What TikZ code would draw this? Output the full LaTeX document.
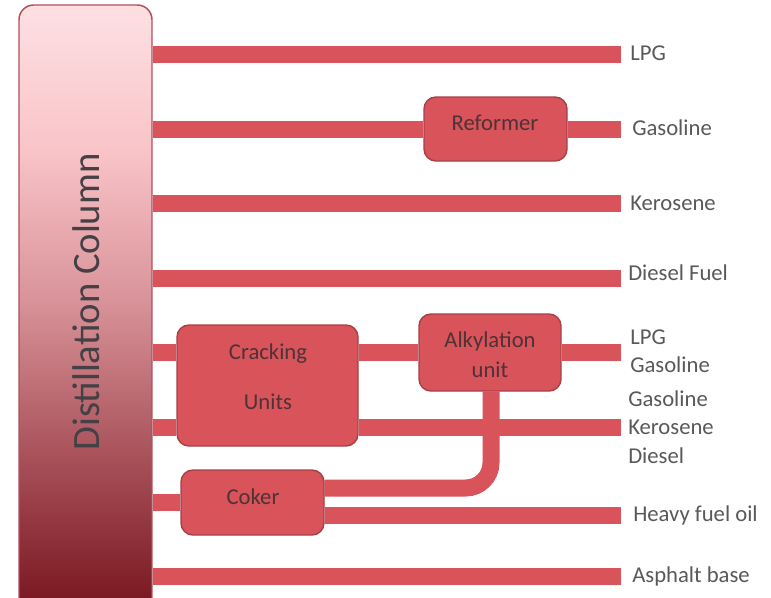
\documentclass[tikz,border=0pt]{standalone}
\usepackage{fontspec}
\setmainfont{Carlito}
\usetikzlibrary{backgrounds}
\definecolor{pipered}{HTML}{D9535B}
\definecolor{boxline}{HTML}{A8404A}
\definecolor{boxtext}{HTML}{4D3236}
\definecolor{labelgray}{HTML}{595959}
\definecolor{colline}{HTML}{B0505A}
\definecolor{coltext}{HTML}{454045}
% column gradient: dark red at the foot, pale pink at the top
\pgfdeclareverticalshading{colshade}{100bp}{
  color(0bp)=(rgb,255:red,118;green,21;blue,32);
  color(25bp)=(rgb,255:red,118;green,21;blue,32);
  color(26.8bp)=(rgb,255:red,124;green,26;blue,35);
  color(38.4bp)=(rgb,255:red,169;green,82;blue,90);
  color(51bp)=(rgb,255:red,217;green,147;blue,154);
  color(63.2bp)=(rgb,255:red,249;green,196;blue,200);
  color(75bp)=(rgb,255:red,253;green,224;blue,227);
  color(100bp)=(rgb,255:red,253;green,224;blue,227)}
\tikzset{
  pipe/.style={draw=pipered, line width=12.75pt, line cap=butt},
  unitbox/.style={draw=boxline, fill=pipered, line width=1.1pt, rounded corners=9pt, inner sep=0pt},
  unittext/.style={text=boxtext, font=\fontsize{17}{20}\selectfont, inner sep=0pt},
  product/.style={text=labelgray, font=\fontsize{17}{20}\selectfont, anchor=west, inner sep=0pt},
}
\begin{document}
\begin{tikzpicture}[x=0.75pt, y=-0.75pt]
\clip (0,0) rectangle (771,597);

% distillation column (runs off the bottom edge)
\node[draw=colline, line width=1.1pt, rounded corners=11pt, shading=colshade,
      minimum width=99.75pt, minimum height=460.5pt, inner sep=0pt]
      (col) at (85.5,312) {};
\node[rotate=90, text=coltext, font=\fontsize{29}{34}\selectfont, inner sep=0pt]
      (coltitle) at (86,302) {Distillation Column};

% process units
\node[unitbox, minimum width=107.25pt, minimum height=48pt] (ref) at (495.5,129) {};
\node[unitbox, minimum width=135.75pt, minimum height=90.75pt] (crack) at (267.5,385.5) {};
\node[unitbox, minimum width=106.5pt, minimum height=57.75pt] (alk) at (490,352.5) {};
\node[unitbox, minimum width=107.25pt, minimum height=48.75pt] (coker) at (252.5,502.5) {};

% pipe end points
\coordinate (e1) at (621,54);
\coordinate (e2) at (621,129);
\coordinate (e3) at (621,203);
\coordinate (e4) at (621,278);
\coordinate (e5) at (621,352.5);
\coordinate (e6) at (621,427);
\coordinate (e8) at (621,515);
\coordinate (e9) at (621,576);
\coordinate (ck) at (491,488);

% white sheet and product streams, kept beneath the units
\begin{scope}[on background layer]
\fill[white] (0,0) rectangle (771,597);
\draw[pipe] (col.east |- e1) -- (e1);
\draw[pipe] (col.east |- ref.west) -- (ref.west);
\draw[pipe] (ref.east) -- (e2);
\draw[pipe] (col.east |- e3) -- (e3);
\draw[pipe] (col.east |- e4) -- (e4);
\draw[pipe] (col.east |- e5) -- (crack.west |- e5);
\draw[pipe] (crack.east |- e5) -- (alk.west);
\draw[pipe] (alk.east) -- (e5);
\draw[pipe] (col.east |- e6) -- (crack.west |- e6);
\draw[pipe] (crack.east |- e6) -- (e6);
\draw[pipe] (col.east |- coker.west) -- (coker.west);
\draw[pipe, rounded corners=19pt] (coker.east |- ck) -- (ck) -- (ck |- alk.south);
\draw[pipe] (coker.east |- e8) -- (e8);
\draw[pipe] (col.east |- e9) -- (e9);
\end{scope}

% unit captions
\node[unittext] (tref) at (495,123) {Reformer};
\node[unittext] (tcr1) at (268,354) {Cracking};
\node[unittext] (tcr2) at (268,402) {Units};
\node[unittext] (tal1) at (490,341) {Alkylation};
\node[unittext] (tal2) at (490,370) {unit};
\node[unittext] (tck) at (253,497) {Coker};

% products
\node[product] (p1) at (630,53) {LPG};
\node[product] (p2) at (632,128) {Gasoline};
\node[product] (p3) at (630,203) {Kerosene};
\node[product] (p4) at (628,273) {Diesel Fuel};
\node[product] (p5) at (630,337) {LPG};
\node[product] (p6) at (630,365) {Gasoline};
\node[product] (p7) at (628,399) {Gasoline};
\node[product] (p8) at (628,427) {Kerosene};
\node[product] (p9) at (628,456) {Diesel};
\node[product] (p10) at (633,515) {Heavy fuel oil};
\node[product] (p11) at (632,576) {Asphalt base};
\end{tikzpicture}
\end{document}
